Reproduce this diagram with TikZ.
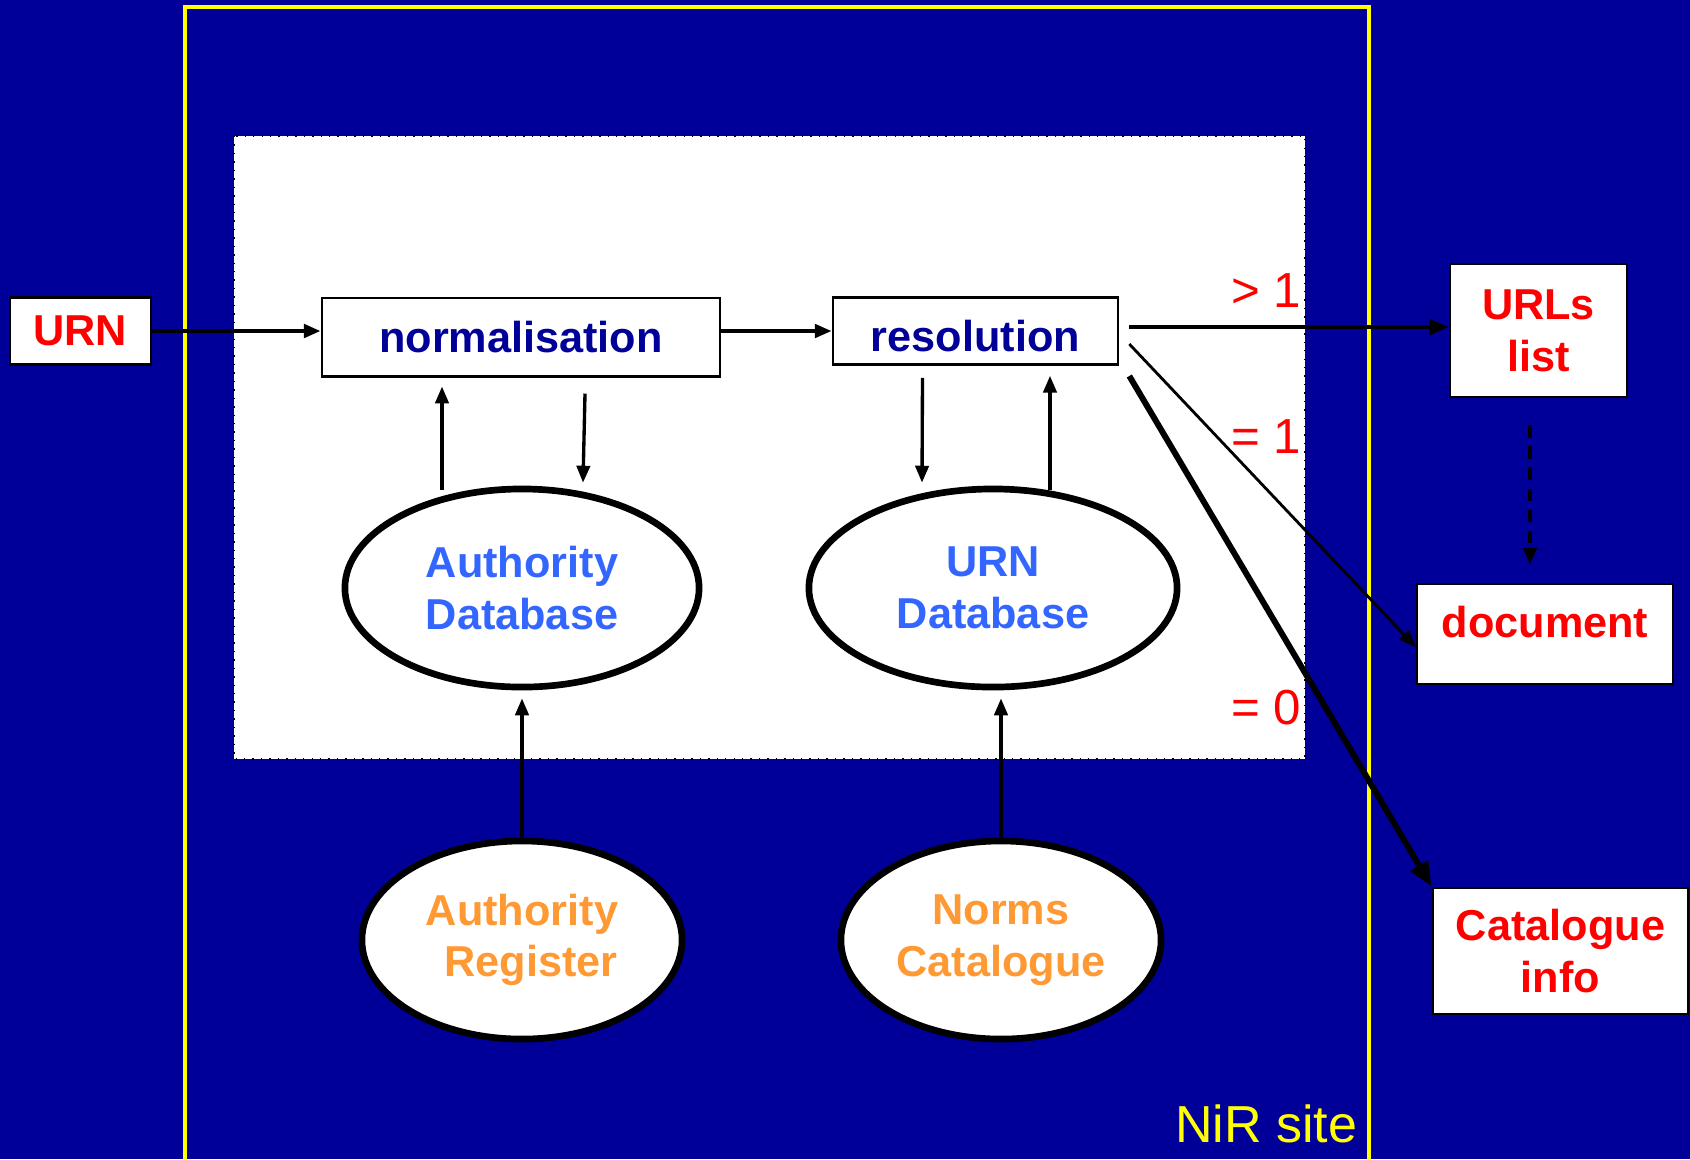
\documentclass[tikz,border=0pt]{standalone}
\usepackage{fontspec}
\setmainfont{Liberation Sans}
\usetikzlibrary{arrows.meta,shapes.geometric,calc}
\definecolor{bgblue}{HTML}{000099}
\definecolor{navytext}{HTML}{000099}
\definecolor{dbblue}{HTML}{3366FF}
\definecolor{regorange}{HTML}{FF9933}
\definecolor{outred}{HTML}{FF0000}
\definecolor{siteyellow}{HTML}{FFFF00}
\tikzset{
  lbl/.style={font=\bfseries\fontsize{12.3}{14.7}\selectfont, align=center},
  whitebox/.style={draw=black, line width=0.7pt, fill=white, inner sep=0pt, lbl},
  dbell/.style={ellipse, draw=black, line width=1.9pt, fill=white, inner sep=0pt, lbl},
  arr/.style={-{Triangle[length=4.8pt,width=3.8pt]}, line width=0.95pt},
  countlbl/.style={text=outred, font=\fontsize{14}{16}\selectfont, anchor=east, inner sep=0pt},
}
\begin{document}
\begin{tikzpicture}[x=0.01cm,y=-0.01cm]
\fill[bgblue] (0,0) rectangle (1690,1159);
\useasboundingbox (0,0) rectangle (1690,1159);
% NiR site frame
\draw[siteyellow, line width=1pt] (185,1170) -- (185,7) -- (1369,7) -- (1369,1170);
% white panel
\fill[white] (234,136) rectangle (1305,759);
\draw[black, dotted, line width=0.4pt] (234,136) rectangle (1305,759);

% boxes
\node[whitebox, text=outred, minimum width=1.41cm, minimum height=0.67cm] (urn) at (80.3,331) {URN};
\node[whitebox, text=navytext, minimum width=3.98cm, minimum height=0.785cm] (norm) at (521,337) {normalisation};
\node[whitebox, text=navytext, minimum width=2.85cm, minimum height=0.67cm] (res) at (975.5,331) {\raisebox{-0.05cm}[\height][\depth]{resolution}};
\node[whitebox, text=outred, minimum width=1.77cm, minimum height=1.33cm] (urls) at (1538.5,330.5) {URLs\\list};
\node[whitebox, text=outred, minimum width=2.56cm, minimum height=1.0cm] (doc) at (1545,634) {\raisebox{0.12cm}[\height][\depth]{document}};
\node[whitebox, text=outred, minimum width=2.55cm, minimum height=1.26cm] (cat) at (1560.5,951) {Catalogue\\info};

% ellipses
\node[dbell, text=dbblue, minimum width=3.54cm, minimum height=1.98cm] (adb) at (522,588) {Authority\\Database};
\node[dbell, text=dbblue, minimum width=3.68cm, minimum height=1.98cm] (udb) at (993,588) {URN\\Database};
\node[dbell, text=regorange, minimum width=3.2cm, minimum height=1.98cm] (areg) at (522,940) {Authority\\\hspace*{0.18cm}Register};
\node[dbell, text=regorange, minimum width=3.2cm, minimum height=1.98cm] (norms) at (1001,940) {Norms\\Catalogue};

% labels
\node[countlbl] (gt1) at (1302,291) {> 1};
\node[countlbl] (eq1) at (1302,437) {= 1};
\node[countlbl] (eq0) at (1302,708) {= 0};
\node[text=siteyellow, font=\fontsize{14.8}{17}\selectfont, anchor=east, inner sep=0pt] (site) at (1358,1124) {NiR site};

% connectors
\draw[arr, line width=1.2pt] (urn.east) -- (norm.west |- urn.east);
\draw[arr, line width=1.1pt] (norm.east |- res.west) -- (res.west);
\draw[arr] ($(adb.north)+(-80,4)$) -- ($(norm.south)+(-79,9)$);
\draw[arr] ($(norm.south)+(64,16)$) -- ($(adb.north)+(61,-3)$);
\draw[arr] ($(res.south)+(-53,12)$) -- ($(udb.north)+(-71,-3)$);
\draw[arr] ($(udb.north)+(57,4)$) -- ($(res.south)+(74.5,10)$);
\draw[arr] (areg.north) -- ($(adb.south)+(0,8)$);
\draw[arr] (norms.north) -- ($(udb.south)+(8,8)$);

\coordinate (o1) at ($(res.east)+(10,-4)$);
\coordinate (o2) at ($(res.east)+(10,13)$);
\coordinate (o3) at ($(res.east)+(10,45)$);
\draw[-{Triangle[length=5.5pt,width=4.5pt]}, line width=1.25pt] (o1) -- (o1 -| urls.west);
\draw[arr, line width=0.8pt] (o2) -- ($(doc.west)+(0,13)$);
\draw[-{Triangle[length=7pt,width=5.5pt]}, line width=1.7pt] (o3) -- (cat.north west);
\draw[arr, dash pattern=on 3.5pt off 2.5pt, line width=1pt] ($(urls.south)+(-8.5,27)$) -- ($(doc.north)+(-15,-18)$);
\end{tikzpicture}
\end{document}
